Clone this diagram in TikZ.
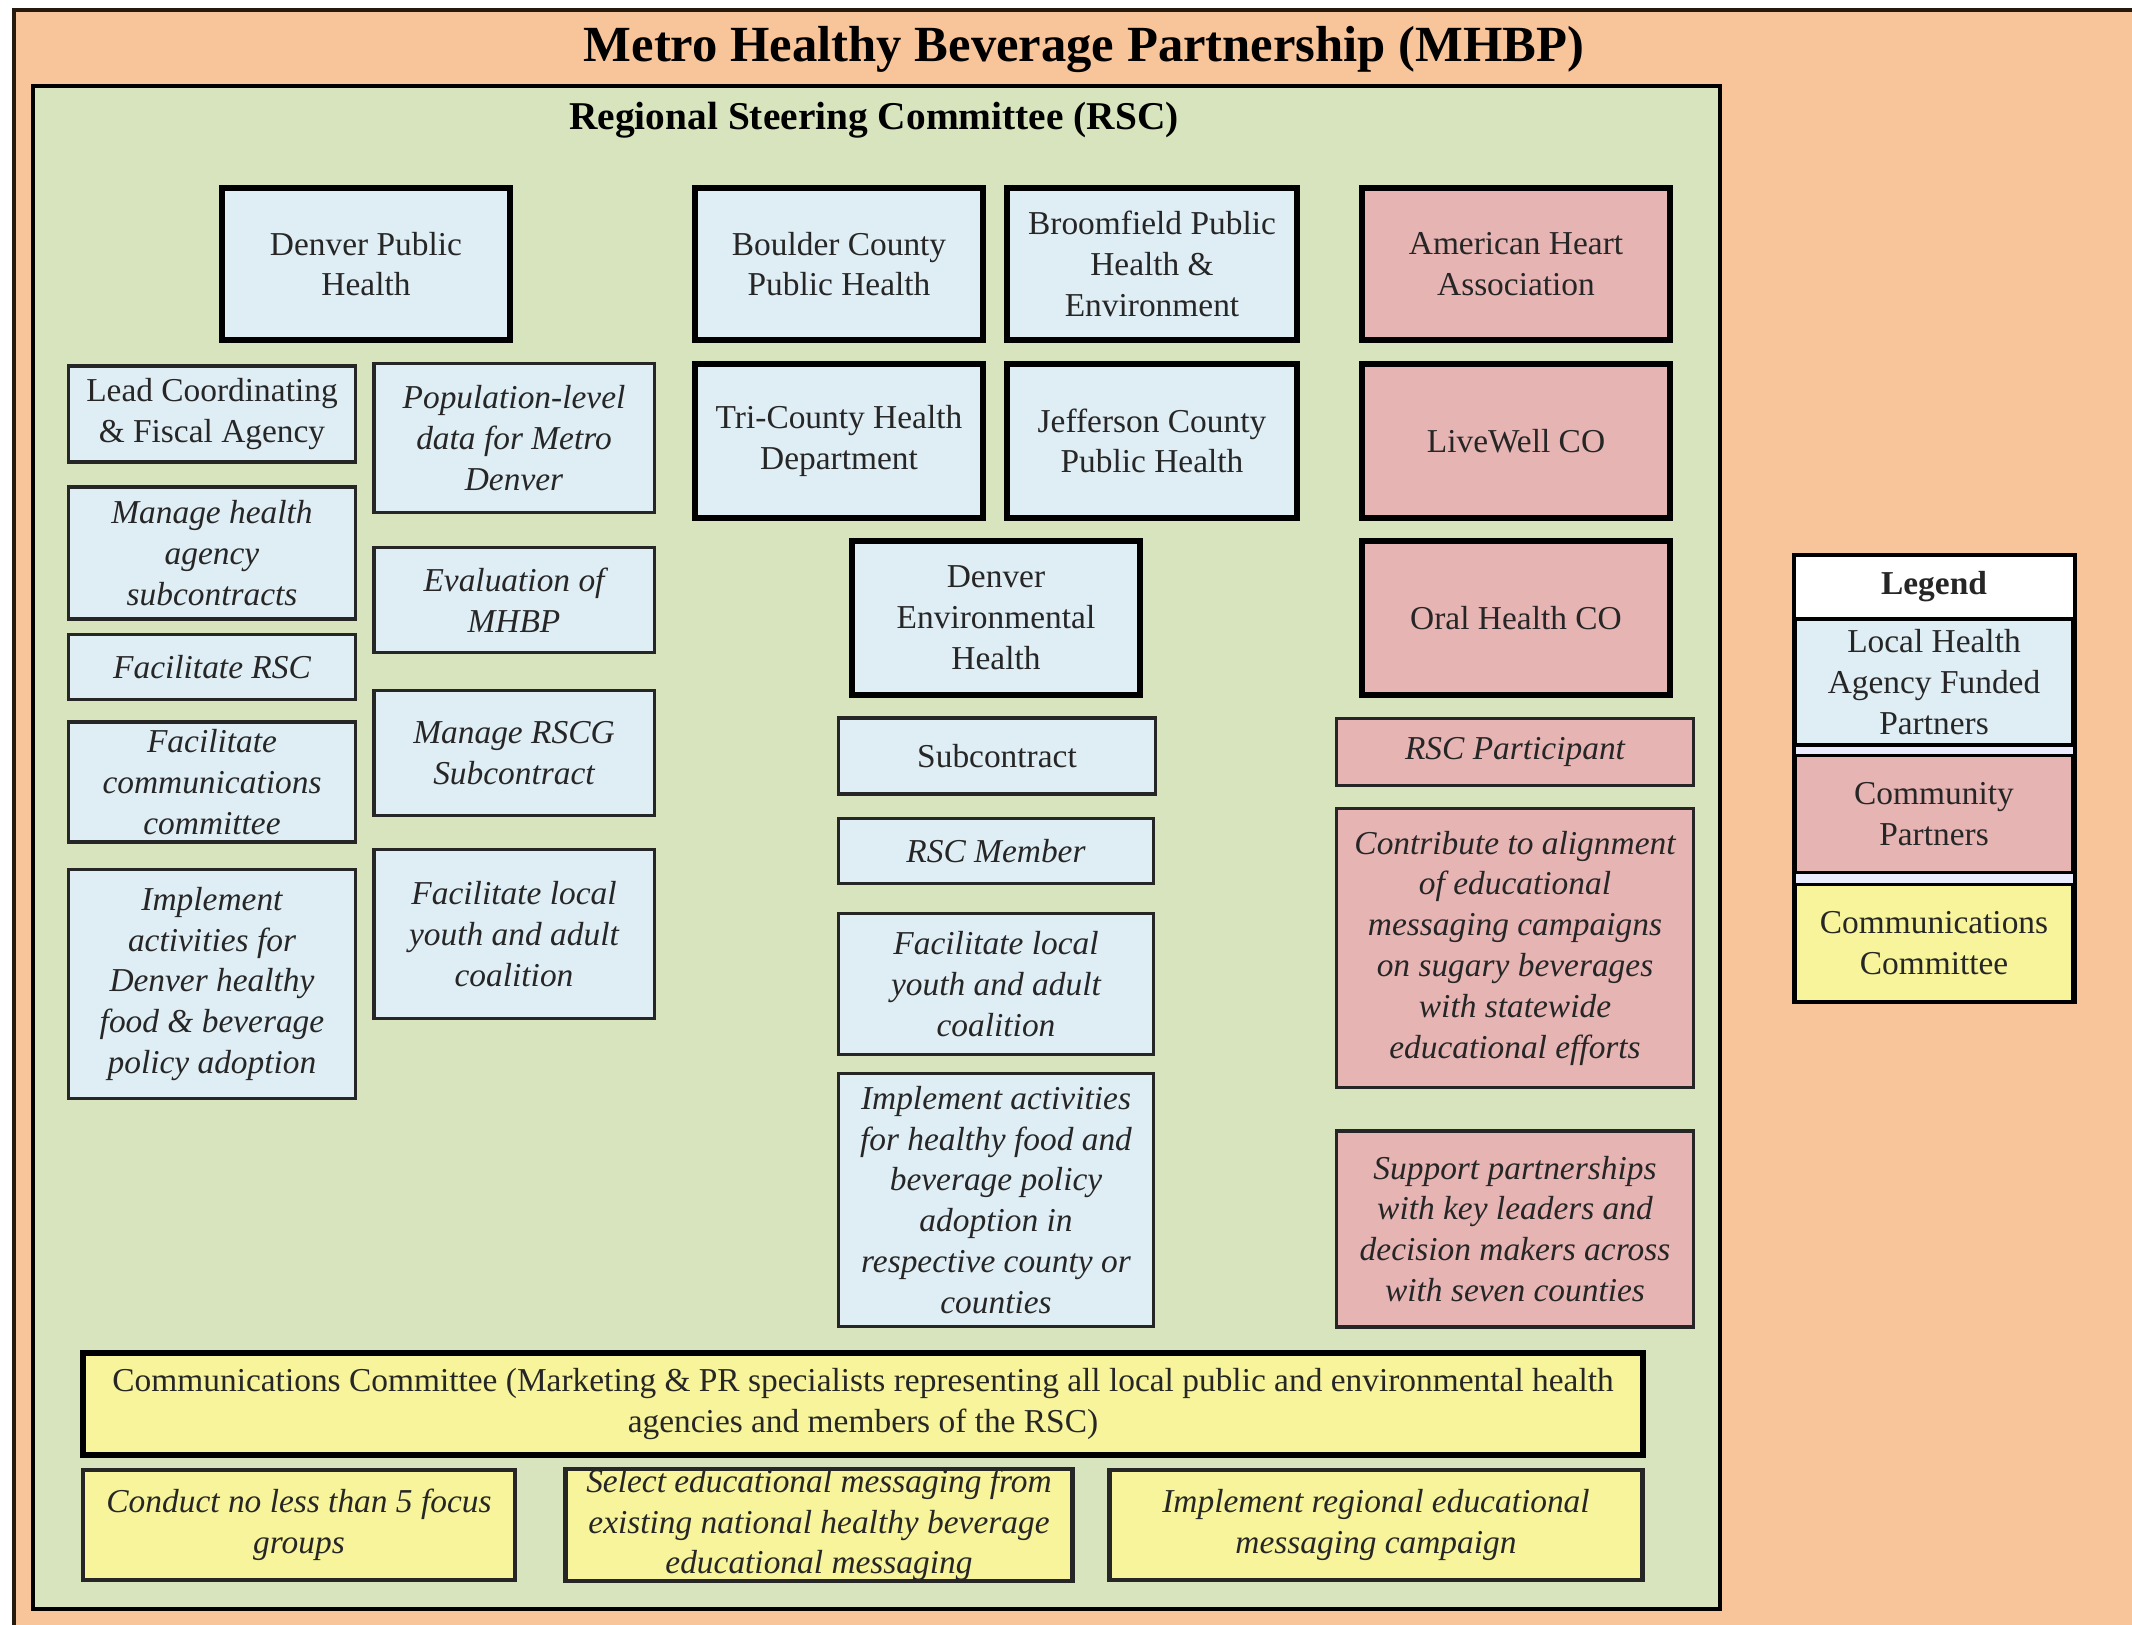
\documentclass[tikz,border=0pt]{standalone}
\usepackage{fontspec}
\setmainfont{Liberation Serif}
\usepackage{tikz}
\definecolor{peach}{HTML}{F8C49A}
\definecolor{sage}{HTML}{D7E4BD}
\definecolor{paleblue}{HTML}{DFEDF4}
\definecolor{rose}{HTML}{E5B4B3}
\definecolor{lemon}{HTML}{F7F49B}
\definecolor{ink}{HTML}{262626}

\begin{document}
\begin{tikzpicture}[x=0.01cm,y=-0.01cm,
  txt/.style = {font=\fontsize{9.5}{11.6}\selectfont, text=ink, align=center, inner sep=1pt},
  agency/.style = {txt, draw=black, line width=1.7pt, fill=paleblue, minimum width=2.86cm, minimum height=1.5cm},
  partner/.style = {agency, fill=rose},
  task/.style = {txt, draw=black!85, line width=0.9pt, fill=paleblue, font=\fontsize{9.5}{11.6}\selectfont\itshape},
  ptask/.style = {task, fill=rose},
  ctask/.style = {task, fill=lemon, minimum height=1.1cm},
  legendbox/.style = {txt, minimum width=2.78cm}]
\useasboundingbox (0,0) rectangle (2132,1625);
%fondos
\fill[peach] (14,10) rectangle (2140,1630);
\draw[black!80!brown, line width=1pt] (14,1630) -- (14,10) -- (2140,10);
\draw[fill=sage, line width=1.3pt] (33,86) rectangle (1720,1609);
\node (mhbp) at (1084,50) [font=\fontsize{14.4}{16}\selectfont\bfseries] {Metro Healthy Beverage Partnership (MHBP)};
\node (rsc) at (874,120) [font=\fontsize{11.2}{13}\selectfont\bfseries] {Regional Steering Committee (RSC)};

%agencias
\node (dph) at (366,264) [agency, minimum width=2.88cm, minimum height=1.52cm] {Denver Public\\Health};
\node (bcph) at (839,264) [agency, minimum width=2.88cm, minimum height=1.52cm] {Boulder County\\Public Health};
\node (bphe) at (1152,264) [agency, minimum width=2.89cm, minimum height=1.52cm] {Broomfield Public\\Health \&\\Environment};
\node (aha) at (1516,264) [partner, minimum width=3.07cm, minimum height=1.52cm] {American Heart\\Association};
\node (tchd) at (839,441) [agency, minimum width=2.88cm, minimum height=1.54cm] {Tri-County Health\\Department};
\node (jcph) at (1152,441) [agency, minimum width=2.89cm, minimum height=1.54cm] {Jefferson County\\Public Health};
\node (lwco) at (1516,441) [partner, minimum width=3.07cm, minimum height=1.54cm] {LiveWell CO};
\node (deh) at (996,618) [agency, minimum width=2.87cm, minimum height=1.54cm] {Denver\\Environmental\\Health};
\node (ohco) at (1516,618) [partner, minimum width=3.07cm, minimum height=1.54cm] {Oral Health CO};

%columna izquierda
\node (lead) at (212,414) [task, font=\fontsize{9.5}{11.6}\selectfont, minimum width=2.87cm, minimum height=0.96cm] {Lead Coordinating\\\& Fiscal Agency};
\node (mhas) at (212,553) [task, minimum width=2.87cm, minimum height=1.32cm] {Manage health\\agency\\subcontracts};
\node (frsc) at (212,667) [task, minimum width=2.87cm, minimum height=0.65cm] {Facilitate RSC};
\node (fcc) at (212,782) [task, minimum width=2.87cm, minimum height=1.2cm] {Facilitate\\communications\\committee};
\node (iad) at (212,984) [task, minimum width=2.87cm, minimum height=2.29cm] {Implement\\activities for\\Denver healthy\\food \& beverage\\policy adoption};
\node (pld) at (514,438) [task, minimum width=2.8cm, minimum height=1.49cm] {Population-level\\data for Metro\\Denver};
\node (evm) at (514,600) [task, minimum width=2.8cm, minimum height=1.05cm] {Evaluation of\\MHBP};
\node (mrs) at (514,753) [task, minimum width=2.8cm, minimum height=1.25cm] {Manage RSCG\\Subcontract};
\node (flya) at (514,934) [task, minimum width=2.8cm, minimum height=1.69cm] {Facilitate local\\youth and adult\\coalition};

%columna central
\node (sub) at (997,756) [task, font=\fontsize{9.5}{11.6}\selectfont, minimum width=3.16cm, minimum height=0.76cm] {Subcontract};
\node (rscm) at (996,851) [task, minimum width=3.14cm, minimum height=0.65cm] {RSC Member};
\node (flyb) at (996,984) [task, minimum width=3.14cm, minimum height=1.41cm] {Facilitate local\\youth and adult\\coalition};
\node (iaf) at (996,1200) [task, minimum width=3.14cm, minimum height=2.53cm] {Implement activities\\for healthy food and\\beverage policy\\adoption in\\respective county or\\counties};

%columna derecha
\node (rscp) at (1515,752) [ptask, minimum width=3.57cm, minimum height=0.67cm] {RSC Participant};
\node (cta) at (1515,948) [ptask, minimum width=3.57cm, minimum height=2.79cm] {Contribute to alignment\\of educational\\messaging campaigns\\on sugary beverages\\with statewide\\educational efforts};
\node (spk) at (1515,1229) [ptask, minimum width=3.57cm, minimum height=1.96cm] {Support partnerships\\with key leaders and\\decision makers across\\with seven counties};

%comunicaciones
\node (cc) at (863,1404) [agency, fill=lemon, minimum width=15.6cm, minimum height=1.02cm] {Communications Committee (Marketing \& PR specialists representing all local public and environmental health\\agencies and members of the RSC)};
\node (cnd) at (299,1525) [ctask, line width=1.3pt, minimum width=4.32cm] {Conduct no less than 5 focus\\groups};
\node (sel) at (819,1525) [ctask, line width=1.3pt, minimum width=5.07cm, minimum height=1.12cm] {};
\node (seltext) at (sel.center) [txt, font=\fontsize{9.5}{11.6}\selectfont\itshape] {Select educational messaging from\\existing national healthy beverage\\educational messaging};
\node (irc) at (1376,1525) [ctask, line width=1.3pt, minimum width=5.33cm] {Implement regional educational\\messaging campaign};

%leyenda
\draw[fill=white!92!blue, line width=1.4pt] (1794,555) rectangle (2075,1002);
\fill[white] (1796,557) rectangle (2073,619);
\node (leg) at (1934,587) [legendbox, font=\fontsize{9.5}{11.6}\selectfont\bfseries, minimum height=0.62cm] {Legend};
\node (lhp) at (1934,682) [legendbox, fill=paleblue, draw=black, line width=1pt, minimum height=1.26cm] {Local Health\\Agency Funded\\Partners};
\node (cp) at (1934,814) [legendbox, fill=rose, draw=black, line width=1pt, minimum height=1.17cm] {Community\\Partners};
\node (ccl) at (1934,943) [legendbox, fill=lemon, draw=black, line width=1pt, minimum height=1.17cm] {Communications\\Committee};
\draw[line width=1.4pt] (1794,555) rectangle (2075,1002);

\end{tikzpicture}
\end{document}
